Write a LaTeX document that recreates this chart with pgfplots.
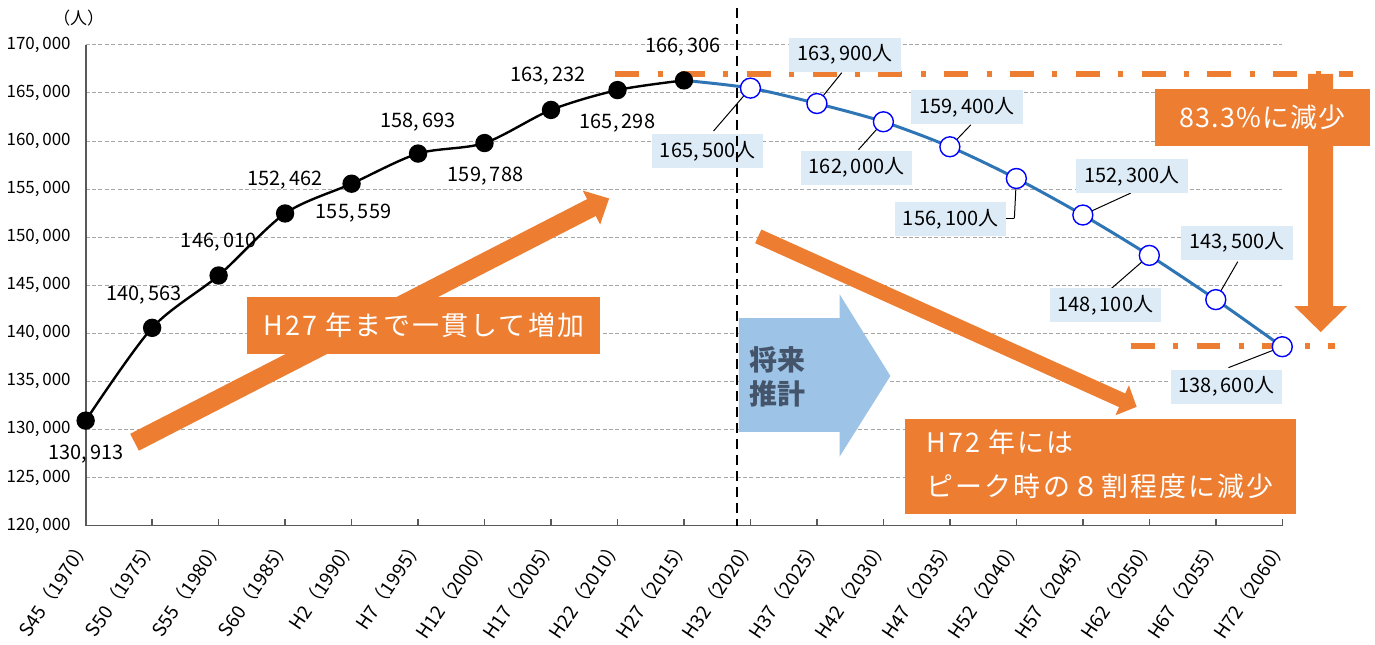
\documentclass[border=0pt]{standalone}
\usepackage{pgfplots}
\pgfplotsset{compat=1.18}
\usepackage{pgfplotstable}
\usepackage{fontspec}
\setmainfont{Noto Sans CJK JP}
\usetikzlibrary{arrows.meta}

\definecolor{orng}{HTML}{ED7D31}
\definecolor{lblue}{HTML}{DDEBF7}
\definecolor{mblue}{HTML}{9DC3E6}
\definecolor{lineblue}{HTML}{2E75B6}
\definecolor{slate}{HTML}{44546A}
\definecolor{axgray}{HTML}{595959}
\definecolor{gridgray}{HTML}{A6A6A6}

% actual population, with label offsets (pt)
\pgfplotstableread{
x y      dx   dy
0 130913 0    -17
1 140563 -4   16.5
2 146010 0    16.5
3 152462 0    16.5
4 155559 1    -15
5 158693 0    16
6 159788 0.5  -16.5
7 163232 -1.5 17
8 165298 0    -16.5
9 166306 -0.5 16.5
}\actual

% projection line (starts at H27)
\pgfplotstableread{
x y
9  166306
10 165500
11 163900
12 162000
13 159400
14 156100
15 152300
16 148100
17 143500
18 138600
}\projline

% projection points, box offsets (pt) and leader vectors (data units)
\pgfplotstableread{
x  y      dx    dy    u      v
10 165500 -21.5 -31.5 -0.555 -4460
11 163900 14    24.5  0.375  3216
12 162000 -13.5 -23   -0.375 -2904
13 159400 8.5   20    0.315  2282
14 156100 -33   -20.5 -0.03  -4149
15 152300 24.5  19.5  0.72   2282
16 148100 -22   -25   -0.585 -3527
17 143500 10.5  28.5  0.33   3942
18 138600 -28   -20   -0.81  -2178
}\proj

\tikzset{px/.style={x=0.5pt,y=-0.5pt,xshift=-41pt,yshift=263.5pt}}

\begin{document}
\begin{tikzpicture}
\begin{scope}[px]
  \useasboundingbox (0,0) rectangle (1375,645);
  % peak and 2060 reference lines
  \draw[orng, line width=3pt, dash pattern=on 12pt off 9.25pt on 2.5pt off 9.25pt] (613,74) -- (1353,74);
  \draw[orng, line width=3pt, dash pattern=on 12pt off 9.25pt on 2.5pt off 9.25pt] (1130,347) -- (1335,347);
\end{scope}

\begin{axis}[
  at={(0,0)}, anchor=south west,
  scale only axis, width=600pt, height=241pt,
  xmin=0, xmax=18, ymin=120000, ymax=170000,
  clip=false,
  axis x line*=bottom, axis y line*=left,
  axis line style={draw=axgray, line width=0.9pt, -},
  xtick={0,...,18},
  xticklabels={S45（1970）,S50（1975）,S55（1980）,S60（1985）,H2（1990）,H7（1995）,H12（2000）,H17（2005）,H22（2010）,H27（2015）,H32（2020）,H37（2025）,H42（2030）,H47（2035）,H52（2040）,H57（2045）,H62（2050）,H67（2055）,H72（2060）},
  ytick={120000,125000,...,170000},
  scaled y ticks=false,
  ymajorgrids, grid style={gridgray, line width=0.5pt, dash pattern=on 2pt off 1.2pt},
  tick align=inside, major tick length=3.5pt,
  ytick style={draw=none},
  xtick style={draw=axgray, line width=0.7pt},
  yticklabel style={font=\fontsize{8.5}{10}\selectfont, xshift=-4pt},
  xticklabel style={font=\fontsize{9.5}{10}\selectfont, yshift=-7pt, xshift=1pt, rotate=56, anchor=east, inner sep=1pt},
  /pgf/number format/.cd, fixed, precision=0, 1000 sep={,\,}, assume math mode=true,
]
  % actual
  \addplot[black, line width=1.2pt, smooth, mark=*, mark size=4pt, mark options={fill=black}]
    table[x=x, y=y] {\actual};
  \addplot[draw=none, no marks, point meta=y, nodes near coords,
    visualization depends on={\thisrow{dx} \as \ldx},
    visualization depends on={\thisrow{dy} \as \ldy},
    every node near coord/.style={anchor=center, xshift=\ldx pt, yshift=\ldy pt,
      font=\fontsize{10}{12}\selectfont, text=black}]
    table[x=x, y=y] {\actual};

  % projection
  \addplot[lineblue, line width=1.5pt, smooth, no marks] table[x=x, y=y] {\projline};
  \addplot[only marks, mark=*, mark size=5pt, mark options={fill=white, draw=blue, line width=0.7pt}]
    table[x=x, y=y] {\proj};
  \addplot[black, line width=0.5pt, no marks, quiver={u=\thisrow{u}, v=\thisrow{v}}]
    table[x=x, y=y] {\proj};
  \draw[black, line width=0.5pt] (axis cs:13.97,151951) -- (axis cs:13.85,151951);
  \addplot[draw=none, no marks, point meta=y,
    nodes near coords={\pgfmathprintnumber{\pgfplotspointmeta}人},
    visualization depends on={\thisrow{dx} \as \ldx},
    visualization depends on={\thisrow{dy} \as \ldy},
    every node near coord/.style={anchor=center, xshift=\ldx pt, yshift=\ldy pt,
      fill=lblue, minimum width=56pt, minimum height=17pt, inner sep=2pt,
      font=\fontsize{10}{12}\selectfont, text=black}]
    table[x=x, y=y] {\proj};
\end{axis}

\begin{scope}[px]
  % unit
  \node[font=\fontsize{8.5}{10}\selectfont] at (75,18) {（人）};
  % start of projection
  \draw[black, line width=1pt, dash pattern=on 5pt off 3pt] (735,8) -- (735,527);
  % projection arrow
  \fill[mblue] (737,319) -- (838,319) -- (838,295) -- (889,377) -- (838,458) -- (838,433) -- (737,433) -- cycle;
  \node[font=\fontsize{14}{17}\selectfont\bfseries, text=slate, align=center] at (776,378) {将来\\推計};
  % increase
  \draw[orng, line width=9.5pt, -{Triangle[width=18.5pt,length=10pt]}] (131,443.5) -- (607,199);
  \node[fill=orng, minimum width=177pt, minimum height=28.5pt, inner sep=0pt, text=white,
    font=\fontsize{13.5}{15}\selectfont\addfontfeatures{LetterSpace=8}] at (421,326.5) {H27 年まで一貫して増加};
  % decrease
  \draw[orng, line width=7.5pt, -{Triangle[width=16pt,length=8pt]}] (756.5,237) -- (1136,408);
  \node[fill=orng, minimum width=196pt, minimum height=47.5pt, inner sep=0pt] at (1100,467.5) {};
  \node[anchor=west, text=white, inner sep=0pt,
    font=\fontsize{13.5}{15}\selectfont\addfontfeatures{LetterSpace=8}] at (925,443) {H72 年には};
  \node[anchor=west, text=white, inner sep=0pt,
    font=\fontsize{13.5}{15}\selectfont\addfontfeatures{LetterSpace=8}] at (925,488) {ピーク時の８割程度に減少};
  % 83.3%
  \fill[orng] (1308,74) -- (1333,74) -- (1333,307) -- (1347,307) -- (1320.5,333) -- (1294,307) -- (1308,307) -- cycle;
  \node[fill=orng, minimum width=108pt, minimum height=28.5pt, inner sep=0pt, text=white,
    font=\fontsize{13.5}{15}\selectfont\addfontfeatures{LetterSpace=4}] at (1262,117.5) {83.3\%に減少};
\end{scope}
\end{tikzpicture}
\end{document}
